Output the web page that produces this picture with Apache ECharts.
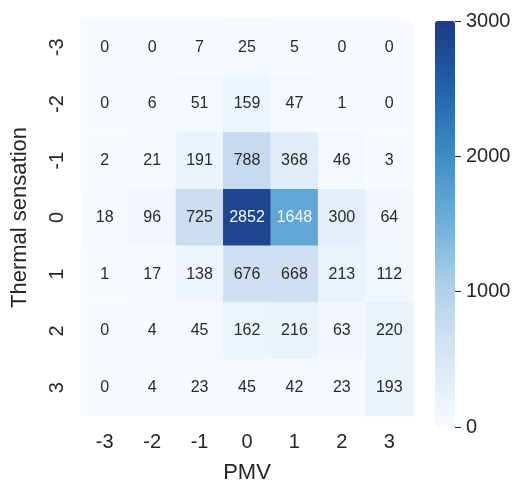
<!DOCTYPE html>
<html>
<head>
<meta charset="utf-8">
<script src="https://cdn.jsdelivr.net/npm/echarts@6/dist/echarts.min.js"></script>
<style>
  html, body { margin: 0; padding: 0; background: #ffffff; }
  #chart { width: 516px; height: 489px; }
</style>
</head>
<body>
<div id="chart"></div>
<script>
// PMV categories (columns) and thermal sensation votes (rows)
const pmvLevels = ['-3', '-2', '-1', '0', '1', '2', '3'];
const sensationLevels = ['-3', '-2', '-1', '0', '1', '2', '3'];

// Counts per sensation row, one entry per PMV column
const rowMinus3 = [0, 0, 7, 25, 5, 0, 0];
const rowMinus2 = [0, 6, 51, 159, 47, 1, 0];
const rowMinus1 = [2, 21, 191, 788, 368, 46, 3];
const row0 = [18, 96, 725, 2852, 1648, 300, 64];
const row1 = [1, 17, 138, 676, 668, 213, 112];
const row2 = [0, 4, 45, 162, 216, 63, 220];
const row3 = [0, 4, 23, 45, 42, 23, 193];

// Colour bar range and ticks
const colorMin = 0;
const colorMax = 3000;
const colorTicks = [0, 1000, 2000, 3000];

const rows = [rowMinus3, rowMinus2, rowMinus1, row0, row1, row2, row3];
const cells = [];
rows.forEach((row, r) => {
  row.forEach((v, c) => {
    cells.push({
      value: [c, r, v],
      label: { color: v > 1200 ? '#f4f8fc' : '#2a2a2a' }
    });
  });
});

const font = 'Liberation Sans, Arial, sans-serif';
const chart = echarts.init(document.getElementById('chart'));

chart.setOption({
  backgroundColor: '#ffffff',
  animation: false,
  grid: [
    { left: 81, top: 19, width: 332, height: 406 },
    { left: 435, top: 21, width: 20, height: 406 }
  ],
  xAxis: [
    {
      type: 'category', gridIndex: 0, data: pmvLevels,
      name: 'PMV', nameLocation: 'middle', nameGap: 46,
      nameTextStyle: { fontSize: 22, color: '#262626', fontFamily: font },
      axisLine: { show: false }, axisTick: { show: false }, splitArea: { show: false },
      axisLabel: { fontSize: 20, color: '#262626', fontFamily: font, margin: 16 }
    },
    { type: 'category', gridIndex: 1, data: [''], show: false }
  ],
  yAxis: [
    {
      type: 'category', gridIndex: 0, data: sensationLevels, inverse: true,
      name: 'Thermal sensation', nameLocation: 'middle', nameGap: 50,
      nameTextStyle: { fontSize: 22, color: '#262626', fontFamily: font },
      axisLine: { show: false }, axisTick: { show: false },
      axisLabel: { fontSize: 20, color: '#262626', fontFamily: font, rotate: 90, margin: 14 }
    },
    {
      type: 'value', gridIndex: 1, position: 'right',
      min: colorMin, max: colorMax, interval: 1000,
      axisLine: { show: false },
      splitLine: { show: false },
      axisTick: { show: true, length: 6, lineStyle: { color: '#262626', width: 1 } },
      axisLabel: {
        fontSize: 20, color: '#262626', fontFamily: font, margin: 11,
        formatter: v => colorTicks.includes(v) ? String(v) : ''
      }
    }
  ],
  visualMap: {
    type: 'continuous',
    min: colorMin, max: colorMax,
    seriesIndex: 0,
    calculable: false,
    orient: 'vertical',
    left: 435, top: 21,
    itemWidth: 20, itemHeight: 406,
    padding: 0,
    text: ['', ''],
    showLabel: false,
    inRange: {
      color: ['#f7fbff', '#e0ecf8', '#c9ddf0', '#a3cbe6', '#6fb0dc',
              '#4a96cc', '#2e78bb', '#1d58a0', '#1f3a88']
    }
  },
  series: [
    {
      type: 'heatmap',
      xAxisIndex: 0, yAxisIndex: 0,
      data: cells,
      label: {
        show: true, fontSize: 16, fontFamily: font,
        formatter: p => String(p.value[2])
      },
      itemStyle: { borderWidth: 0 },
      emphasis: { disabled: true }
    },
    {
      type: 'line', xAxisIndex: 1, yAxisIndex: 1, data: [], silent: true
    }
  ]
});
</script>
</body>
</html>
